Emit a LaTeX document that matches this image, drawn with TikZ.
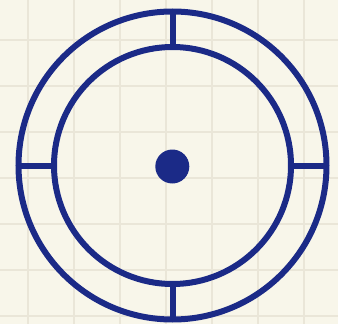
\documentclass[tikz,border=0pt]{standalone}
\usetikzlibrary{calc}
\definecolor{paper}{RGB}{248,246,234}
\definecolor{gridc}{RGB}{234,230,216}
\definecolor{ink}{RGB}{27,42,135}
\tikzset{
  ring/.style={draw=ink,line width=6pt},
  tickline/.style={draw=ink,line width=6pt},
  gridline/.style={draw=gridc,line width=2.2pt}
}
\begin{document}
\begin{tikzpicture}[x=1pt,y=-1pt]
\fill[paper] (0,0) rectangle (338,324);
\useasboundingbox (0,0) rectangle (338,324);
\foreach \gx in {28,74,120,166,212,258,304} {\draw[gridline] (\gx,0) -- (\gx,324);}
\foreach \gy in {40,86,132,178,224,270,316} {\draw[gridline] (0,\gy) -- (338,\gy);}
\coordinate (c) at (172.5,165.5);
\draw[ring] (c) circle[radius=154];
\draw[ring] (c) circle[radius=118.5];
\draw[tickline] ($(c)+(0,-154)$) -- ($(c)+(0,-118.5)$);
\draw[tickline] ($(c)+(0,154)$) -- ($(c)+(0,118.5)$);
\draw[tickline] ($(c)+(-154,0)$) -- ($(c)+(-118.5,0)$);
\draw[tickline] ($(c)+(154,0)$) -- ($(c)+(118.5,0)$);
\fill[ink] (172.3,166.5) circle[radius=17];
\end{tikzpicture}
\end{document}
